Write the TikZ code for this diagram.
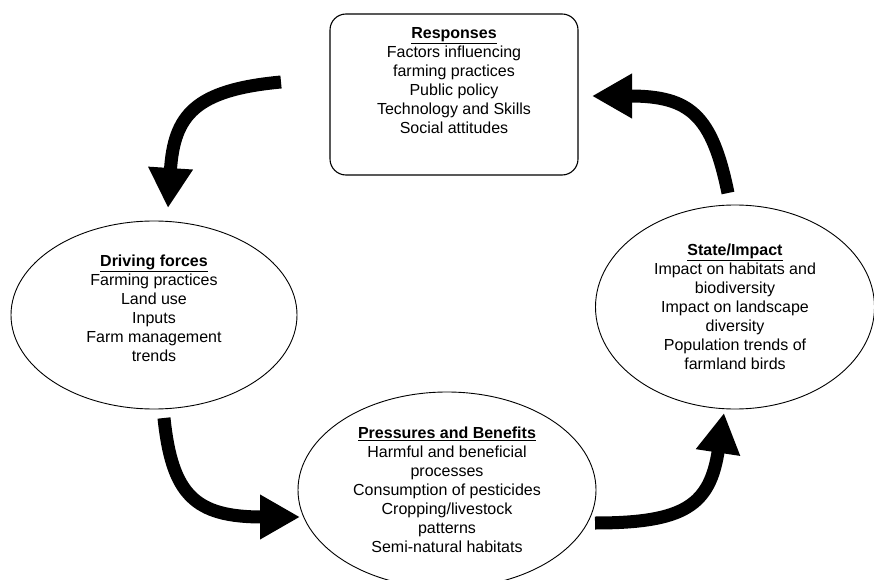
\documentclass[tikz,border=0pt]{standalone}
\usepackage{fontspec}
\setmainfont{Liberation Sans}
\usetikzlibrary{arrows.meta,shapes.geometric}
\begin{document}
\begin{tikzpicture}[x=1bp,y=-1bp,
  txt/.style={align=center,font=\fontsize{16bp}{19bp}\selectfont,inner sep=0pt},
  ell/.style={draw,ellipse,line width=0.9bp,txt},
  respbox/.style={draw,rounded corners=16bp,line width=1.1bp,minimum width=248bp,minimum height=161bp,inner sep=0pt},
  bigarrow/.style={line width=13bp,-{Triangle[length=40bp,width=42bp]}}]
\useasboundingbox (0,0) rectangle (874,580);
% Responses box
\node[respbox] (resp) at (454,94.5) {};
\node[txt] (resptxt) at (454,81) {\underline{\textbf{Responses}}\\Factors influencing\\farming practices\\Public policy\\Technology and Skills\\Social attitudes};
% Driving forces
\node[ell,minimum width=286bp,minimum height=188bp,text depth=13bp] (drive) at (154,315) {\underline{\textbf{Driving forces}}\\Farming practices\\Land use\\Inputs\\Farm management\\trends};
% Pressures and Benefits
\node[ell,minimum width=298bp,minimum height=196bp] (press) at (447,490) {\underline{\textbf{Pressures and Benefits}}\\Harmful and beneficial\\processes\\Consumption of pesticides\\Cropping/livestock\\patterns\\Semi-natural habitats};
% State/Impact
\node[ell,minimum width=279bp,minimum height=204bp] (state) at (735,307) {\underline{\textbf{State/Impact}}\\Impact on habitats and\\biodiversity\\Impact on landscape\\diversity\\Population trends of\\farmland birds};
% arrow end points
\coordinate (a1s) at (281,82);
\coordinate (a1e) at (168,208);
\coordinate (a2s) at (164,418);
\coordinate (a2e) at (300,517);
\coordinate (a3s) at (595,523);
\coordinate (a3e) at (724,413);
\coordinate (a4s) at (728,193);
\coordinate (a4e) at (592,96);
% arrows
\draw[bigarrow] (a1s) .. controls (195,90) and (174,115) .. (a1e);
\draw[bigarrow] (a2s) .. controls (172,495) and (195,517) .. (a2e);
\draw[bigarrow] (a3s) .. controls (685,523) and (710,505) .. (a3e);
\draw[bigarrow] (a4s) .. controls (712,115) and (690,96) .. (a4e);
\end{tikzpicture}
\end{document}
